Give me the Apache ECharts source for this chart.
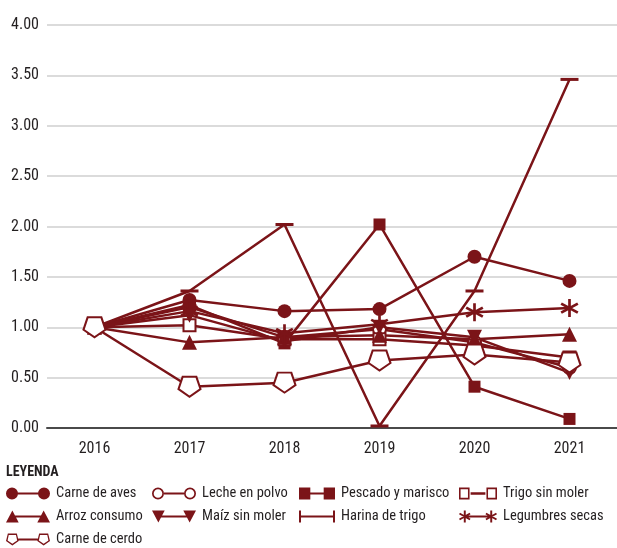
<!DOCTYPE html>
<html><head><meta charset="utf-8">
<script src="https://cdn.jsdelivr.net/npm/echarts@6/dist/echarts.min.js"></script>
<style>html,body{margin:0;padding:0;background:#fff}#c{width:617px;height:548px}</style>
</head><body><div id="c"></div>
<script>
const years = ['2016','2017','2018','2019','2020','2021'];
const carneAves      = [1.00, 1.27, 1.16, 1.18, 1.70, 1.46];
const lechePolvo     = [1.00, 1.20, 0.90, 0.98, 0.85, 0.60];
const pescadoMarisco = [1.00, 1.22, 0.84, 2.02, 0.41, 0.09];
const trigoSinMoler  = [1.00, 1.02, 0.88, 0.88, 0.82, 0.70];
const arrozConsumo   = [1.00, 0.85, 0.90, 0.92, 0.88, 0.93];
const maizSinMoler   = [1.00, 1.12, 0.86, 1.00, 0.90, 0.55];
const harinaTrigo    = [1.00, 1.36, 2.02, 0.02, 1.36, 3.46];
const legumbresSecas = [1.00, 1.16, 0.94, 1.03, 1.15, 1.19];
const carneCerdo     = [1.00, 0.41, 0.45, 0.67, 0.73, 0.65];
const yTicks = [0, 4, 0.5];

const RED = '#7b1418';
const FONT = '"Roboto Condensed", "Liberation Sans Narrow", sans-serif';

// asterisk spokes (unit box 0..100), half-width hw
function astPath(ox, oy, sc, hw){
  const P = (x,y) => `${(ox + x*sc).toFixed(2)},${(oy + y*sc).toFixed(2)}`;
  let p = `M${P(50-hw,0)} L${P(50+hw,0)} L${P(50+hw,100)} L${P(50-hw,100)} Z `;
  [30, -30].forEach(deg => {
    const r = deg*Math.PI/180, dx = Math.cos(r)*50, dy = Math.sin(r)*50, nx = -Math.sin(r)*hw, ny = Math.cos(r)*hw;
    p += `M${P(50-dx-nx,50-dy-ny)} L${P(50+dx-nx,50+dy-ny)} L${P(50+dx+nx,50+dy+ny)} L${P(50-dx+nx,50-dy+ny)} Z `;
  });
  return p;
}
const ASTERISK = 'path://' + astPath(0, 0, 1, 7);
const PENTA = 'path://M19,0 L81,0 L100,62 L50,100 L0,62 Z';
const DASH = 'path://M0,0 L100,0 L100,16 L0,16 Z';

// legend icon builders (box W x 12)
function rcw(x0,y0,x1,y1){return `M${x0},${y0} L${x1},${y0} L${x1},${y1} L${x0},${y1} Z `;}
function rccw(x0,y0,x1,y1){return `M${x0},${y0} L${x0},${y1} L${x1},${y1} L${x1},${y0} Z `;}
function circ(cx,cy,r,cw){const s=cw?1:0;return `M${cx-r},${cy} A${r},${r} 0 1,${s} ${cx+r},${cy} A${r},${r} 0 1,${s} ${cx-r},${cy} Z `;}
function line(x0,x1){return rcw(x0,5,x1,7);}
function shape(kind, cx){
  switch(kind){
    case 'circle': return circ(cx,6,6,true);
    case 'ring': return circ(cx,6,6,true)+circ(cx,6,4.3,false);
    case 'rect': return rcw(cx-5.5,0.5,cx+5.5,11.5);
    case 'hrect': return rcw(cx-5,1,cx+5,11)+rccw(cx-3.5,2.5,cx+3.5,9.5);
    case 'tri': return `M${cx},0 L${cx+6.5},12 L${cx-6.5},12 Z `;
    case 'dtri': return `M${cx-6.5},0 L${cx+6.5},0 L${cx},12 Z `;
    case 'bar': return rcw(cx-1,0,cx+1,12);
    case 'ast': return astPath(cx-6, 0, 0.12, 8);
    case 'penta': {
      const o = `M${cx-4.6},0 L${cx+4.6},0 L${cx+6.5},7.4 L${cx},12 L${cx-6.5},7.4 Z `;
      const i = `M${cx-3.7},1.5 L${cx-4.9},7 L${cx},10.3 L${cx+4.9},7 L${cx+3.7},1.5 Z `;
      return o+i;
    }
  }
}
function icon(kind, W, hollow){
  const a = (kind==='bar') ? 1 : 6, b = (kind==='bar') ? W-1 : W-6;
  let p = shape(kind,a)+shape(kind,b);
  p += hollow ? line(a+6,b-6) : line(a,b);
  return 'path://'+p;
}

const colX = [6, 152, 299, 459];
const colW = [44, 44, 36, 38];
const rowY = [494, 517, 540];
const defs = [
  {name:'Carne de aves', data:carneAves, symbol:'circle', size:14, kind:'circle', col:0,row:0},
  {name:'Leche en polvo', data:lechePolvo, symbol:'emptyCircle', size:13, kind:'ring', hollow:true, col:1,row:0},
  {name:'Pescado y marisco', data:pescadoMarisco, symbol:'rect', size:12, kind:'rect', col:2,row:0},
  {name:'Trigo sin moler', data:trigoSinMoler, symbol:'emptyRect', size:12, kind:'hrect', hollow:true, col:3,row:0},
  {name:'Arroz consumo', data:arrozConsumo, symbol:'triangle', size:15, kind:'tri', col:0,row:1},
  {name:'Maíz sin moler', data:maizSinMoler, symbol:'triangle', rotate:180, size:15, kind:'dtri', col:1,row:1},
  {name:'Harina de trigo', data:harinaTrigo, symbol:DASH, size:[18,3], kind:'bar', col:2,row:1},
  {name:'Legumbres secas', data:legumbresSecas, symbol:ASTERISK, size:18, kind:'ast', col:3,row:1},
  {name:'Carne de cerdo', data:carneCerdo, symbol:PENTA, size:[22,20], hollowPath:true, kind:'penta', hollow:true, col:0,row:2}
];

const series = defs.map(d => ({
  name: d.name, type: 'line', data: d.data,
  symbol: d.symbol, symbolSize: d.size, symbolRotate: d.rotate || 0,
  showAllSymbol: true,
  lineStyle: {color: RED, width: 2.5},
  itemStyle: d.hollowPath ? {color:'#fff', borderColor: RED, borderWidth: 2}
            : {color: RED, borderColor: RED, borderWidth: (d.symbol==='emptyCircle'||d.symbol==='emptyRect') ? 2 : 0},
  emphasis: {disabled: true},
  z: 3
}));

const legends = defs.map(d => ({
  data: [{name: d.name, icon: icon(d.kind, colW[d.col], d.hollow), itemStyle: {color: RED, borderWidth: 0, opacity: 1}}],
  left: colX[d.col], top: rowY[d.row] - 8,
  itemWidth: colW[d.col], itemHeight: 12, itemGap: 0, padding: 0,
  symbolKeepAspect: false,
  selectedMode: false,
  textStyle: {fontFamily: FONT, fontSize: 14.5, color: '#231f20', padding: [0,0,0,1]}
}));

const chart = echarts.init(document.getElementById('c'), null, {renderer:'canvas'});
chart.setOption({
  animation: false,
  backgroundColor: '#fff',
  title: {text: 'LEYENDA', left: 6, top: 465, padding: 0,
    textStyle: {fontFamily: FONT, fontSize: 14, fontWeight: 'bold', color: '#231f20'}},
  legend: legends,
  grid: {left: 47, right: -8, top: 25, bottom: 120, containLabel: false},
  xAxis: {
    type: 'category', data: years, boundaryGap: true,
    axisLine: {show: true, lineStyle: {color: '#4a4a4a', width: 2}},
    axisTick: {show: false},
    axisLabel: {fontFamily: FONT, fontSize: 16, color: '#231f20', margin: 13},
    splitLine: {show: false}
  },
  yAxis: {
    type: 'value', min: yTicks[0], max: yTicks[1], interval: yTicks[2],
    axisLine: {show: false}, axisTick: {show: false},
    axisLabel: {fontFamily: FONT, fontSize: 16, color: '#231f20', margin: 8,
      formatter: v => v.toFixed(2)},
    splitLine: {show: true, lineStyle: {color: '#cfcfcf', width: 1.5}}
  },
  series: series
});
</script></body></html>
